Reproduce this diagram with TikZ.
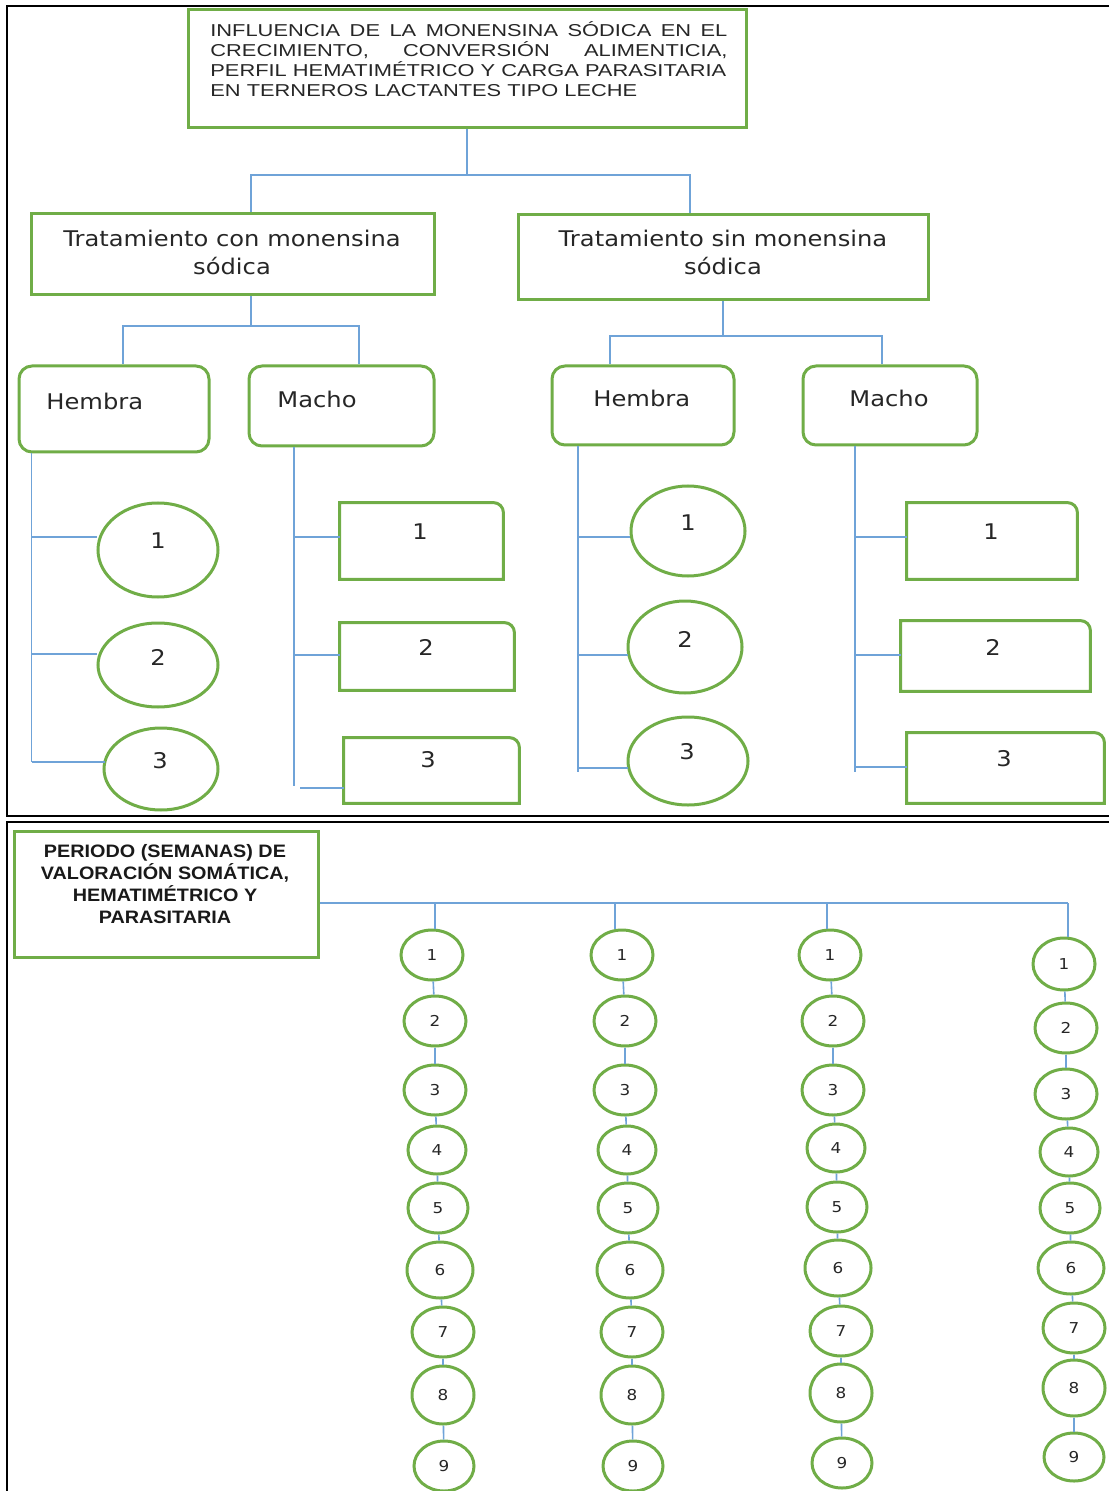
\documentclass[tikz,border=0pt]{standalone}
\usepackage{fontspec}
\usetikzlibrary{shapes.geometric,calc}
\newfontfamily\ttlfont[FakeStretch=1.27]{Liberation Sans}
\newfontfamily\vfont[FakeStretch=1.12]{DejaVu Sans}
\newfontfamily\pfont[FakeStretch=1.1]{Liberation Sans}
\definecolor{grn}{HTML}{70AD47}
\definecolor{blu}{HTML}{6FA3D8}
\newcommand\onecorner[1]{\draw[gline] (#1.south west) -- (#1.north west) [rounded corners=5pt] -- (#1.north east) [sharp corners] -- (#1.south east) -- cycle;}
\begin{document}
\begin{tikzpicture}[x=0.5pt,y=-0.5pt,
  gline/.style={draw=grn,line width=1.5pt},
  gbox/.style={gline,rectangle,inner sep=0pt},
  rbox/.style={gbox,rounded corners=6.5pt},
  ebox/.style={rectangle,inner sep=0pt},
  gell/.style={gline,ellipse,inner sep=0pt},
  conn/.style={draw=blu,line width=0.8pt},
  frm/.style={draw=black,line width=1.3pt},
  vtxt/.style={font=\vfont\fontsize{10.8}{14}\selectfont,inner sep=0pt,text=black!85},
  numtxt/.style={font=\vfont\fontsize{7.5}{8}\selectfont,text=black!85,inner sep=0pt}]
\useasboundingbox (0,0) rectangle (1109,1491);
% frames
\draw[frm] (1109,6) -- (7,6) -- (7,816) -- (1109,816);
\draw[frm] (1109,822) -- (7,822) -- (7,1491);

% title
\node[gbox,minimum width=279pt,minimum height=59pt] (title) at (467,69) {};
\node[anchor=north west,inner sep=0pt,align=left,text=black!85,font=\ttlfont\fontsize{8.6}{10}\selectfont] (titletxt) at (210,21)
 {\makebox[258.5pt][s]{INFLUENCIA DE LA MONENSINA SÓDICA EN EL}\\
  \makebox[258.5pt][s]{CRECIMIENTO, CONVERSIÓN ALIMENTICIA,}\\
  PERFIL HEMATIMÉTRICO Y CARGA PARASITARIA\\
  EN TERNEROS LACTANTES TIPO LECHE};

% treatments
\node[gbox,minimum width=201.5pt,minimum height=40.5pt] (tcon) at (232.5,254.5) {};
\node[vtxt,align=center] (tcontxt) at (232,252) {Tratamiento con monensina\\sódica};
\node[gbox,minimum width=205pt,minimum height=42.5pt] (tsin) at (723,257.5) {};
\node[vtxt,align=center] (tsintxt) at (723,252) {Tratamiento sin monensina\\sódica};

\coordinate (j1) at (title.south |- 0,175);
\draw[conn] (title.south) -- (j1);
\draw[conn] (j1) -| ($(tcon.north)+(18.5,0)$);
\draw[conn] (j1) -| ($(tsin.north)+(-33,0)$);

% sex boxes
\node[rbox,minimum width=95pt,minimum height=43pt] (hL) at (114,409) {};
\node[vtxt,anchor=west] (hLtxt) at (46,401) {Hembra};
\node[rbox,minimum width=92.5pt,minimum height=40pt] (mL) at (341.5,406) {};
\node[vtxt,anchor=west] (mLtxt) at (277,399) {Macho};
\node[rbox,minimum width=91pt,minimum height=39.5pt] (hR) at (643,405.5) {};
\node[vtxt,anchor=west] (hRtxt) at (593,398) {Hembra};
\node[rbox,minimum width=87pt,minimum height=39.5pt] (mR) at (890,405.5) {};
\node[vtxt,anchor=west] (mRtxt) at (849,398) {Macho};

\coordinate (j2) at (251,326);
\draw[conn] ($(tcon.south)+(18.5,0)$) -- (j2);
\draw[conn] (j2) -| ($(hL.north)+(9,0)$);
\draw[conn] (j2) -| ($(mL.north)+(17.5,0)$);
\coordinate (j3) at (723,336);
\draw[conn] (tsin.south) -- (j3);
\draw[conn] (j3) -| ($(hR.north)+(-33,0)$);
\draw[conn] (j3) -| ($(mR.north)+(-8,0)$);

% left hembra leaves
\node[gell,minimum width=60pt,minimum height=47pt] (hLc1) at (158,550) {};
\node[vtxt] (hLc1t) at (158,541) {1};
\node[gell,minimum width=60pt,minimum height=42pt] (hLc2) at (158,665) {};
\node[vtxt] (hLc2t) at (158,657) {2};
\node[gell,minimum width=57pt,minimum height=41pt] (hLc3) at (161,769) {};
\node[vtxt] (hLc3t) at (160,761) {3};
\coordinate (hLt) at ($(hL.south west)+(14,0)$);
\draw[conn] (hLt) -- (hLt |- 0,762);
\draw[conn] (hLt |- 0,537) -- (hLc1.west |- 0,537);
\draw[conn] (hLt |- 0,654) -- (hLc2.west |- 0,654);
\draw[conn] (hLt |- 0,762) -- ($(hLc3.west |- 0,762)+(2,0)$);

% left macho leaves
\node[ebox,minimum width=81.5pt,minimum height=38pt] (mLb1) at (421.5,541) {};
\onecorner{mLb1}
\node[vtxt] (mLb1t) at (420,532) {1};
\node[ebox,minimum width=87pt,minimum height=33.5pt] (mLb2) at (427,656.5) {};
\onecorner{mLb2}
\node[vtxt] (mLb2t) at (426,647) {2};
\node[ebox,minimum width=87.5pt,minimum height=32.5pt] (mLb3) at (431.5,770.5) {};
\onecorner{mLb3}
\node[vtxt] (mLb3t) at (428,760) {3};
\coordinate (mLt) at (mL.south -| 294,0);
\draw[conn] (mLt) -- (mLt |- 0,786);
\draw[conn] (mLt |- 0,537) -- (mLb1.west |- 0,537);
\draw[conn] (mLt |- 0,655) -- (mLb2.west |- 0,655);
\draw[conn] (300,788) -- (mLb3.west |- 0,788);

% right hembra leaves
\node[gell,minimum width=57pt,minimum height=45pt] (hRc1) at (688,531) {};
\node[vtxt] (hRc1t) at (688,523) {1};
\node[gell,minimum width=57pt,minimum height=46pt] (hRc2) at (685,647) {};
\node[vtxt] (hRc2t) at (685,639) {2};
\node[gell,minimum width=60pt,minimum height=44pt] (hRc3) at (688,761) {};
\node[vtxt] (hRc3t) at (687,752) {3};
\coordinate (hRt) at (hR.south -| 578,0);
\draw[conn] (hRt) -- (hRt |- 0,772);
\draw[conn] (hRt |- 0,537) -- (hRc1.west |- 0,537);
\draw[conn] (hRt |- 0,655) -- ($(hRc2.west |- 0,655)+(1,0)$);
\draw[conn] (hRt |- 0,768) -- ($(hRc3.west |- 0,768)+(1,0)$);

% right macho leaves
\node[ebox,minimum width=85pt,minimum height=38pt] (mRb1) at (992,541) {};
\onecorner{mRb1}
\node[vtxt] (mRb1t) at (991,532) {1};
\node[ebox,minimum width=94.5pt,minimum height=35pt] (mRb2) at (995.5,656) {};
\onecorner{mRb2}
\node[vtxt] (mRb2t) at (993,647) {2};
\node[ebox,minimum width=98.5pt,minimum height=35pt] (mRb3) at (1005.5,768) {};
\onecorner{mRb3}
\node[vtxt] (mRb3t) at (1004,759) {3};
\coordinate (mRt) at (mR.south -| 855,0);
\draw[conn] (mRt) -- (mRt |- 0,772);
\draw[conn] (mRt |- 0,537) -- (mRb1.west |- 0,537);
\draw[conn] (mRt |- 0,655) -- (mRb2.west |- 0,655);
\draw[conn] (mRt |- 0,767) -- (mRb3.west |- 0,767);

% bottom panel
\node[gbox,minimum width=152pt,minimum height=63pt] (ptitle) at (166,894) {};
\node[align=center,inner sep=0pt,text=black!90,font=\pfont\bfseries\fontsize{9}{11}\selectfont] (ptitletxt) at (165,884)
 {PERIODO (SEMANAS) DE\\VALORACIÓN SOMÁTICA,\\HEMATIMÉTRICO Y\\PARASITARIA};
\coordinate (hl) at (ptitle.east |- 0,903);
\coordinate (d1) at (435,903);
\coordinate (d2) at (615,903);
\coordinate (d3) at (827,903);
\coordinate (d4) at (1068,903);
\draw[conn] (hl) -- (d4);

\foreach \i/\x/\y/\w/\h in {1/432/955/62/50,2/435/1021/62/50,3/435/1090/62/50,4/437/1150/58/48,5/438/1208/60/50,6/440/1270/66/56,7/443/1332/62/50,8/443/1395/62/58,9/444/1466/60/50}
  \node[gell,numtxt,minimum width={\w*0.5pt},minimum height={\h*0.5pt}] (a\i) at (\x,\y) {\i};
\foreach \i/\x/\y/\w/\h in {1/622/955/62/50,2/625/1021/62/50,3/625/1090/62/50,4/627/1150/58/48,5/628/1208/60/50,6/630/1270/66/56,7/632/1332/62/50,8/632/1395/62/58,9/633/1466/60/50}
  \node[gell,numtxt,minimum width={\w*0.5pt},minimum height={\h*0.5pt}] (b\i) at (\x,\y) {\i};
\foreach \i/\x/\y/\w/\h in {1/830/955/62/50,2/833/1021/62/50,3/833/1090/62/50,4/836/1148/58/48,5/837/1207/60/50,6/838/1268/66/56,7/841/1331/62/50,8/841/1393/62/58,9/842/1463/60/50}
  \node[gell,numtxt,minimum width={\w*0.5pt},minimum height={\h*0.5pt}] (c\i) at (\x,\y) {\i};
\foreach \i/\x/\y/\w/\h in {1/1064/964/62/52,2/1066/1028/62/50,3/1066/1094/62/50,4/1069/1152/58/48,5/1070/1208/60/50,6/1071/1268/66/52,7/1074/1328/62/50,8/1074/1388/62/56,9/1074/1457/60/48}
  \node[gell,numtxt,minimum width={\w*0.5pt},minimum height={\h*0.5pt}] (e\i) at (\x,\y) {\i};

\draw[conn] (d1) -- (d1 |- a1.north);
\draw[conn] (d2) -- (d2 |- b1.north);
\draw[conn] (d3) -- (d3 |- c1.north);
\draw[conn] (d4) -- (d4 |- e1.north);
\foreach \c in {a,b,c,e}{
  \foreach \i [count=\j from 2] in {1,...,8}
    \draw[conn] (\c\i) -- (\c\j);
}
\end{tikzpicture}
\end{document}
